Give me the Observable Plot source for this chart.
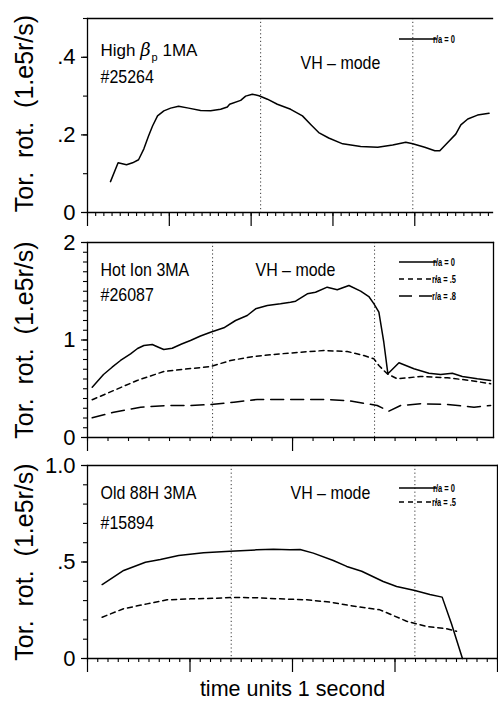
<!DOCTYPE html>
<html>
<head>
<meta charset="utf-8">
<script src="https://cdn.jsdelivr.net/npm/d3@7"></script>
<script src="https://cdn.jsdelivr.net/npm/@observablehq/plot@0.6"></script>
<style>
  html, body { margin: 0; padding: 0; background: #fff; }
  #wrap { position: relative; width: 498px; height: 705px; background: #fff; overflow: hidden; }
  #wrap > svg { position: absolute; left: 0; }
</style>
</head>
<body>
<div id="wrap"></div>
<script>
// ---------- DATA ----------
// Panel 1: High beta_p 1MA, shot #25264 (time in s, rotation in 1e5 rad/s)
const p1_t_ra0 = [0.281,0.374,0.477,0.551,0.624,0.689,0.746,0.795,0.856,0.933,1.016,1.113,1.236,1.382,1.505,1.627,1.709,1.737,1.872,1.933,2.014,2.096,2.199,2.320,2.483,2.627,2.728,2.826,2.948,3.119,3.339,3.547,3.730,3.890,3.975,4.122,4.245,4.306,4.400,4.501,4.563,4.648,4.767,4.908];
const p1_v_ra0 = [0.0795,0.128,0.123,0.128,0.136,0.164,0.197,0.223,0.249,0.262,0.269,0.274,0.269,0.263,0.262,0.266,0.272,0.279,0.289,0.300,0.305,0.301,0.292,0.279,0.266,0.249,0.227,0.206,0.192,0.177,0.170,0.168,0.174,0.181,0.177,0.168,0.159,0.159,0.180,0.202,0.226,0.241,0.251,0.256];
const p1_vh = [2.116, 3.976];

// Panel 2: Hot Ion 3MA, shot #26087
const p2_t_ra0 = [0.023,0.078,0.12,0.161,0.21,0.244,0.275,0.316,0.346,0.372,0.413,0.459,0.502,0.551,0.6,0.665,0.722,0.779,0.82,0.877,0.941,0.99,1.015,1.072,1.112,1.169,1.218,1.275,1.332,1.372,1.397,1.421,1.445,1.465,1.519,1.592,1.665,1.722,1.779,1.828,1.901,1.966];
const p2_v_ra0 = [0.516,0.646,0.721,0.79,0.858,0.913,0.944,0.954,0.926,0.903,0.916,0.959,0.995,1.041,1.08,1.125,1.2,1.251,1.32,1.354,1.371,1.388,1.398,1.474,1.49,1.542,1.515,1.559,1.501,1.446,1.371,1.285,0.977,0.653,0.766,0.705,0.659,0.646,0.659,0.626,0.602,0.585];
const p2_t_ra5 = [0.023,0.128,0.242,0.372,0.47,0.6,0.698,0.811,0.941,1.039,1.153,1.267,1.348,1.397,1.421,1.462,1.511,1.624,1.755,1.868,1.966];
const p2_v_ra5 = [0.387,0.482,0.585,0.677,0.7,0.728,0.79,0.831,0.858,0.875,0.892,0.882,0.841,0.807,0.738,0.653,0.602,0.626,0.612,0.585,0.551];
const p2_t_ra8 = [0.023,0.128,0.259,0.389,0.502,0.6,0.714,0.828,0.941,1.039,1.153,1.267,1.364,1.413,1.47,1.527,1.624,1.755,1.885,1.966];
const p2_v_ra8 = [0.202,0.259,0.311,0.328,0.328,0.338,0.362,0.39,0.39,0.39,0.39,0.379,0.346,0.328,0.27,0.328,0.346,0.338,0.311,0.328];
const p2_vh = [0.61, 1.4];

// Panel 3: Old 88H 3MA, shot #15894
const p3_t_ra0 = [0.143,0.353,0.565,0.711,0.889,1.132,1.392,1.652,1.814,1.977,2.074,2.203,2.398,2.529,2.675,2.885,3.016,3.194,3.34,3.46,3.551,3.658];
const p3_v_ra0 = [0.383,0.456,0.499,0.513,0.534,0.548,0.556,0.563,0.566,0.563,0.565,0.546,0.508,0.477,0.452,0.399,0.373,0.352,0.332,0.318,0.18,0];
const p3_t_ra5 = [0.143,0.353,0.581,0.776,1.003,1.23,1.409,1.652,1.879,2.139,2.366,2.626,2.853,2.982,3.113,3.308,3.502,3.6];
const p3_v_ra5 = [0.214,0.258,0.283,0.304,0.309,0.312,0.316,0.315,0.309,0.304,0.292,0.269,0.252,0.223,0.193,0.166,0.154,0.141];
const p3_vh = [1.402, 3.194];

// Tick values and labels
const p1_yMajor = [0, 0.2, 0.4];      const p1_yLabels = ["0", ".2", ".4"];
const p2_yMajor = [0, 1, 2];          const p2_yLabels = ["0", "1", "2"];
const p3_yMajor = [0, 0.5, 1];        const p3_yLabels = ["0", ".5", "1.0"];

// Texts
const yTitle = "Tor.  rot.  (1.e5r/s)";
const xTitle = "time units 1 second";
const panelNames = ["High βp 1MA", "Hot Ion 3MA", "Old 88H 3MA"];
const shots = ["#25264", "#26087", "#15894"];
const modeText = "VH – mode";
const legendNames = ["r/a = 0", "r/a = .5", "r/a = .8"];

// ---------- RENDER ----------
const FONT = "'Liberation Sans', Arial, Helvetica, sans-serif";
const DASHES = [null, "5,4", "13,7"];

const rows = (t, v) => t.map((d, i) => ({t: d, v: v[i]}));
const steps = (hi, st) => d3.range(0, hi + st / 2, st).map(d => +d.toFixed(4));

const wrap = document.getElementById("wrap");

// squeeze a text horizontally (the reference uses a condensed face)
function condense(node, factor) {
  const len = node.getComputedTextLength();
  node.setAttribute("textLength", (len * factor).toFixed(1));
  node.setAttribute("lengthAdjust", "spacingAndGlyphs");
}

function makePanel(cfg) {
  const marks = [];
  marks.push(Plot.ruleX(cfg.vh, {stroke: "#222", strokeWidth: 0.9, strokeDasharray: "1.2,2.6"}));
  cfg.series.forEach((s, i) => {
    marks.push(Plot.line(rows(s.t, s.v), {
      x: "t", y: "v", stroke: "#000", strokeWidth: 1.5,
      strokeDasharray: DASHES[i], strokeLinejoin: "round"
    }));
  });
  cfg.sides.forEach(a => marks.push(Plot.frame({anchor: a, stroke: "#000", strokeWidth: 1.3})));
  marks.push(Plot.axisY(steps(cfg.yDomain[1], 0.1), {tickSize: 4, tickFormat: () => "", label: null, strokeWidth: 1.1}));
  marks.push(Plot.axisY(cfg.yMajor, {
    tickSize: 6, tickPadding: 6, label: null, strokeWidth: 1.2,
    tickFormat: d => cfg.yLabels[cfg.yMajor.indexOf(d)],
    fontSize: 22, fontFamily: FONT
  }));
  marks.push(Plot.axisX(steps(Math.floor(cfg.xDomain[1] * 10) / 10, 0.1), {tickSize: 4, tickFormat: () => "", label: null, strokeWidth: 1.1}));
  marks.push(Plot.axisX(steps(Math.floor(cfg.xDomain[1]), 1), {tickSize: 14, tickFormat: () => "", label: null, strokeWidth: 1.2}));
  marks.push(Plot.text([yTitle], {
    text: d => d, frameAnchor: "left", textAnchor: "middle", lineAnchor: "middle",
    dx: -63, dy: cfg.titleDy, rotate: -90,
    fontSize: 25, fontFamily: FONT, fill: "#000"
  }));
  const lab = {frameAnchor: "top-left", lineAnchor: "bottom", textAnchor: "start", fontSize: 19, fontFamily: FONT, fill: "#000", className: "cond"};
  marks.push(Plot.text([panelNames[cfg.k]], {...lab, text: d => d, dx: 13, dy: cfg.nameDy}));
  marks.push(Plot.text([shots[cfg.k]], {...lab, text: d => d, dx: 13, dy: cfg.shotDy}));
  marks.push(Plot.text([modeText], {...lab, text: d => d, dx: cfg.modeDx, dy: cfg.modeDy}));
  if (cfg.xTitle) {
    marks.push(Plot.text([xTitle], {
      text: d => d, frameAnchor: "bottom", dy: 37, lineAnchor: "bottom",
      fontSize: 21.5, fontFamily: FONT, fill: "#000"
    }));
  }
  const svg = Plot.plot({
    width: 498, height: cfg.height,
    marginLeft: 87, marginRight: cfg.mr, marginTop: cfg.mt, marginBottom: cfg.mb,
    x: {domain: cfg.xDomain, label: null},
    y: {domain: cfg.yDomain, label: null},
    style: {background: "#fff", color: "#000", fontFamily: FONT, overflow: "visible"},
    marks
  });
  svg.style.top = cfg.top + "px";
  wrap.appendChild(svg);

  // legend
  const g = d3.select(svg).append("g");
  cfg.series.forEach((s, i) => {
    const y = cfg.legY + i * cfg.legStep;
    g.append("line").attr("x1", 399).attr("x2", 437).attr("y1", y).attr("y2", y)
      .attr("stroke", "#000").attr("stroke-width", 1.3)
      .attr("stroke-dasharray", DASHES[i]);
    const t = g.append("text").attr("x", 444).attr("y", y + 3.5)
      .attr("font-size", 10).attr("font-family", FONT).attr("font-weight", "bold")
      .attr("fill", "#000").text(legendNames[i]);
    condense(t.node(), 0.75);
  });

  // condensed panel labels
  d3.select(svg).selectAll("g.cond text").each(function () { condense(this, 0.84); });

  // beta_p subscript
  d3.select(svg).selectAll("text").filter(function () { return this.textContent === "High βp 1MA"; })
    .each(function () {
      const t = d3.select(this);
      t.attr("textLength", null).attr("lengthAdjust", null).attr("font-size", 17);
      t.text(null);
      t.append("tspan").text("High ");
      t.append("tspan").attr("font-style", "italic").attr("font-family", "'DejaVu Serif', serif").attr("font-size", 18).text("β");
      t.append("tspan").attr("font-size", 11).attr("dy", 5).attr("dx", 1).text("p");
      t.append("tspan").attr("dy", -5).text(" 1MA");
    });
  return svg;
}

makePanel({
  k: 0, top: 0, height: 228, mt: 18, mb: 16, mr: 6,
  xDomain: [0, 4.95], yDomain: [0, 0.5],
  yMajor: p1_yMajor, yLabels: p1_yLabels,
  vh: p1_vh, sides: ["top", "left", "bottom"],
  series: [{t: p1_t_ra0, v: p1_v_ra0}],
  nameDy: 37, shotDy: 64, modeDx: 213, modeDy: 50,
  legY: 39, legStep: 17, titleDy: -2
});

makePanel({
  k: 1, top: 228, height: 228, mt: 14, mb: 19, mr: 5,
  xDomain: [0, 1.98], yDomain: [0, 2],
  yMajor: p2_yMajor, yLabels: p2_yLabels,
  vh: p2_vh, sides: ["top", "left", "bottom", "right"],
  series: [{t: p2_t_ra0, v: p2_v_ra0}, {t: p2_t_ra5, v: p2_v_ra5}, {t: p2_t_ra8, v: p2_v_ra8}],
  nameDy: 33, shotDy: 58, modeDx: 168, modeDy: 33,
  legY: 34, legStep: 17, titleDy: 0
});

makePanel({
  k: 2, top: 456, height: 249, mt: 9, mb: 47, mr: 1,
  xDomain: [0, 4], yDomain: [0, 1],
  yMajor: p3_yMajor, yLabels: p3_yLabels,
  vh: p3_vh, sides: ["top", "left", "bottom", "right"],
  series: [{t: p3_t_ra0, v: p3_v_ra0}, {t: p3_t_ra5, v: p3_v_ra5}],
  nameDy: 33, shotDy: 63, modeDx: 203, modeDy: 33,
  legY: 32, legStep: 14, titleDy: 0,
  xTitle: true
});
</script>
</body>
</html>
